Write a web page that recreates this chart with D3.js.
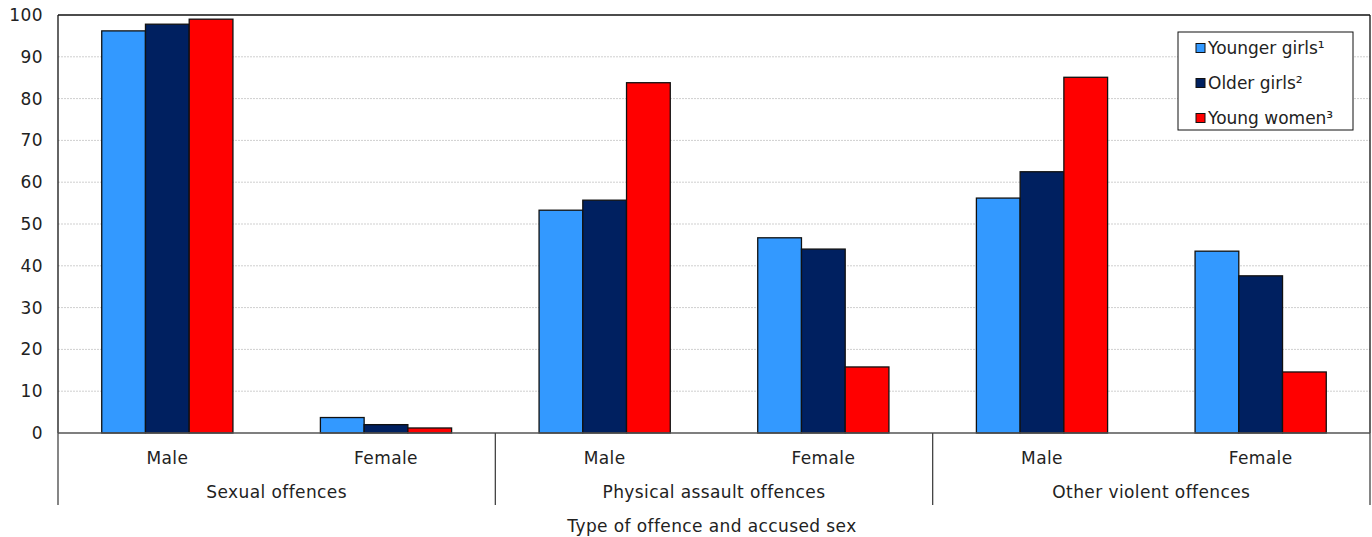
<!DOCTYPE html>
<html><head><meta charset="utf-8">
<script src="https://cdn.jsdelivr.net/npm/d3@7"></script>
<style>body{margin:0;background:#fff}svg{display:block}text{font-family:"DejaVu Sans",Verdana,sans-serif;fill:#222;letter-spacing:0.4px}</style>
</head><body><svg id="c" width="1372" height="537"></svg>
<script>
const groups = ["Sexual offences","Physical assault offences","Other violent offences"];
const sexes = ["Male","Female"];
const seriesNames = ["Younger girls¹","Older girls²","Young women³"];
const colors = ["#3399ff","#002060","#ff0000"];
const younger = [96.2, 3.7, 53.3, 46.7, 56.2, 43.5];
const older   = [97.8, 2.0, 55.7, 44.0, 62.5, 37.6];
const women   = [99.0, 1.2, 83.8, 15.8, 85.1, 14.6];
const yTicks = [0,10,20,30,40,50,60,70,80,90,100];
const xTitle = "Type of offence and accused sex";

const series = [younger, older, women];
const cats = [];
groups.forEach(g => sexes.forEach(s => cats.push(g + "|" + s)));

const FS = "17px";
const svg = d3.select("#c");
const L = 58, R = 1370, T = 15, B = 433;
const x = d3.scaleBand().domain(cats).range([L, R]).paddingInner(0.4).paddingOuter(0.2);
const xs = d3.scaleBand().domain(d3.range(3)).range([0, x.bandwidth()]);
const y = d3.scaleLinear().domain([0,100]).range([B, T]);

// grid
svg.append("g").selectAll("line").data(yTicks.filter(t => t>0 && t<100)).join("line")
  .attr("x1", L).attr("x2", R).attr("y1", d=>y(d)).attr("y2", d=>y(d))
  .attr("stroke", "#cfcfcf").attr("stroke-dasharray","2,1");

// y axis labels
const ya = svg.append("g").attr("transform", `translate(${L},0)`)
  .call(d3.axisLeft(y).tickValues(yTicks).tickSize(0).tickPadding(15));
ya.select(".domain").remove();
ya.selectAll("text").style("font-size",FS).attr("fill","#222");

// bars
series.forEach((vals, si) => {
  svg.append("g").selectAll("rect").data(vals).join("rect")
    .attr("x", (d,i) => x(cats[i]) + xs(si))
    .attr("y", d => y(d))
    .attr("width", xs.bandwidth())
    .attr("height", d => B - y(d))
    .attr("fill", colors[si]).attr("stroke", "#111").attr("stroke-width", 1.3);
});

// frame
svg.append("line").attr("x1",L).attr("x2",R).attr("y1",T).attr("y2",T).attr("stroke","#111").attr("stroke-width",1.3);
svg.append("line").attr("x1",R).attr("x2",R).attr("y1",T).attr("y2",B).attr("stroke","#111").attr("stroke-width",1.3);
svg.append("line").attr("x1",L).attr("x2",L).attr("y1",T).attr("y2",B).attr("stroke","#111").attr("stroke-width",1.3);
svg.append("line").attr("x1",L).attr("x2",R).attr("y1",B).attr("y2",B).attr("stroke","#555").attr("stroke-width",1.5);

// category axis
const gw = (R - L) / groups.length;
groups.forEach((g, gi) => {
  const gx = L + gi * gw;
  svg.append("text").attr("x", gx + gw/2).attr("y", 498).attr("text-anchor","middle").style("font-size",FS).text(g);
});
d3.range(groups.length + 1).forEach(i => {
  svg.append("line").attr("x1", L + i*gw).attr("x2", L + i*gw).attr("y1", B).attr("y2", 505)
    .attr("stroke","#444").attr("stroke-width",1.3);
});
cats.forEach(c => {
  svg.append("text").attr("x", x(c) + x.bandwidth()/2).attr("y", 464).attr("text-anchor","middle")
    .style("font-size",FS).text(c.split("|")[1]);
});
svg.append("text").attr("x", 712).attr("y", 532).attr("text-anchor","middle").style("font-size",FS).text(xTitle);

// legend
const lg = svg.append("g");
lg.append("rect").attr("x",1178).attr("y",32).attr("width",175).attr("height",98).attr("fill","#fff").attr("stroke","#111").attr("stroke-width",1);
seriesNames.forEach((n, i) => {
  const cy = 48 + i*35;
  lg.append("rect").attr("x",1196).attr("y",cy-4.5).attr("width",9).attr("height",9).attr("fill",colors[i]).attr("stroke","#111").attr("stroke-width",1);
  lg.append("text").attr("x",1208).attr("y",cy+6).style("font-size",FS).style("letter-spacing","0px").text(n);
});
</script></body></html>
